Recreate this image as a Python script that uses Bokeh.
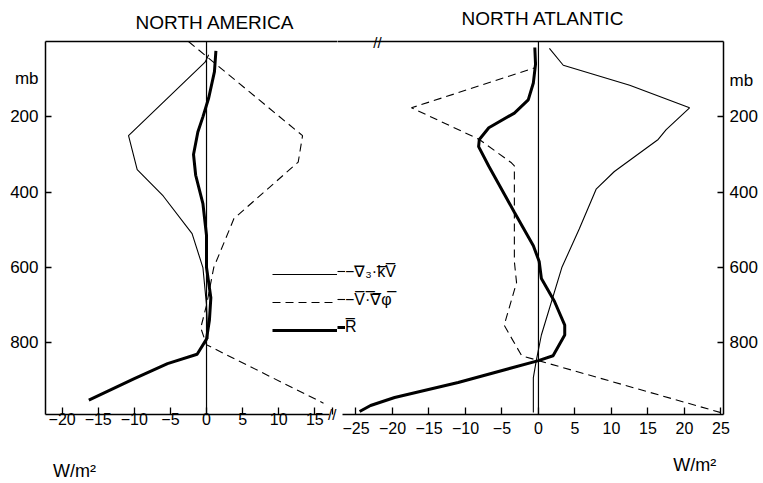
from bokeh.plotting import figure
from bokeh.layouts import row
from bokeh.models import Range1d, LinearAxis, FixedTicker, Span, Legend, LegendItem
from bokeh.core.properties import value
from bokeh.embed import file_html
from bokeh.resources import INLINE

# ---------------- data (pressure in mb, flux in W/m^2) ----------------
# NORTH AMERICA
na_kv_p = [35, 55, 250, 340, 410, 510, 600, 700, 790]
na_kv_v = [0.3, -0.2, -10.8, -9.6, -6.0, -2.0, -0.5, 0.0, 0.2]
na_phi_p = [0, 250, 320, 470, 600, 700, 760, 805, 960]
na_phi_v = [-2.5, 13.3, 12.7, 3.8, 1.0, 0.0, -0.8, 0.0, 16.2]
na_r_p = [25, 80, 150, 200, 240, 300, 355, 430, 515, 600, 680, 740, 790, 830, 855, 895, 952]
na_r_v = [1.3, 1.1, 0.3, -0.5, -1.2, -1.8, -1.5, -0.5, 0.0, 0.0, 0.6, 0.4, 0.0, -1.3, -5.4, -10.0, -16.3]

# NORTH ATLANTIC
at_kv_p = [18, 63, 116, 176, 234, 260, 345, 392, 497, 600, 779, 847, 892, 985]
at_kv_v = [1.5, 3.4, 12.5, 20.7, 17.5, 16.4, 10.4, 7.9, 5.6, 3.2, 0.4, -0.3, -0.7, -0.7]
at_phi_p = [55, 70, 176, 260, 322, 330, 584, 640, 753, 834, 847, 985]
at_phi_v = [-0.3, -0.5, -17.4, -8.1, -3.7, -3.3, -3.3, -3.0, -4.7, -2.3, 0.0, 25.0]
at_r_p = [16, 60, 110, 155, 190, 229, 260, 279, 331, 453, 542, 584, 629, 690, 753, 779, 834, 847, 905, 945, 966, 982]
at_r_v = [-0.5, -0.4, -0.7, -1.4, -3.3, -6.8, -8.1, -8.2, -6.8, -3.3, -0.7, 0.1, 0.4, 2.2, 3.6, 3.6, 2.0, 0.0, -11.0, -19.7, -23.0, -24.5]

na_ticks = [-20, -15, -10, -5, 0, 5, 10, 15]
na_tick_labels = ["\u221220", "\u221215", "\u221210", "\u22125", "0", "5", "10", "15"]
at_ticks = [-25, -20, -15, -10, -5, 0, 5, 10, 15, 20, 25]
at_tick_labels = ["\u221225", "\u221220", "\u221215", "\u221210", "\u22125", "0", "5", "10", "15", "20", "25"]
p_ticks = [200, 400, 600, 800]
p_tick_labels = ["200", "400", "600", "800"]

legend_labels = ["\u2212\u2207\u2083\u00b7k\u0305V\u0305", "\u2212V\u0305\u00b7\u0305\u2207\u0305\u03c6\u0305", "R\u0305"]
titles = ["NORTH AMERICA", "NORTH ATLANTIC"]
unit_x = "W/m\u00b2"
unit_p = "mb"
break_mark = "//"

FONT = "Liberation Sans"

# ---------------- helpers ----------------
def make_axis(ticks, labels=None, size="16px", tick_in=0, line=False, standoff=5, **kw):
    ax = LinearAxis(ticker=FixedTicker(ticks=ticks), **kw)
    if labels is not None:
        ax.major_label_overrides = dict(zip(ticks, labels))
    ax.axis_line_color = "black" if line else None
    ax.axis_line_width = 1.5
    ax.major_tick_in = tick_in
    ax.major_tick_out = 0
    ax.major_tick_line_color = "black" if tick_in else None
    ax.major_tick_line_width = 1.3
    ax.minor_tick_line_color = None
    ax.major_label_text_font = FONT
    ax.major_label_text_font_size = size
    ax.major_label_text_color = "black"
    ax.major_label_standoff = standoff
    return ax

def base_fig(xr, fw, top, bottom, left, right, title, offset, standoff):
    f = figure(frame_width=fw, frame_height=373,
               min_border_left=left, min_border_right=right,
               min_border_top=top, min_border_bottom=bottom,
               x_range=xr, y_range=Range1d(990, 0),
               output_backend="svg", toolbar_location=None,
               x_axis_location=None, y_axis_location=None, title=title)
    f.grid.visible = False
    f.outline_line_color = None
    f.background_fill_color = "white"
    f.border_fill_color = "white"
    f.title.text_font = FONT
    f.title.text_font_size = "19px"
    f.title.text_font_style = "normal"
    f.title.text_color = "black"
    f.title.align = "left"
    f.title.offset = offset
    f.title.standoff = standoff
    return f

# ---------------- left panel: NORTH AMERICA ----------------
pl = base_fig(Range1d(-22.3, 18.14), 292, 38, 71, 45, 0, titles[0], 90, 18)
# bottom: ticks + break mark, numbers, unit
ax_a = make_axis(na_ticks + [17.4], [""] * len(na_ticks) + [break_mark], size="15px",
                 tick_in=7, line=True, standoff=-9, bounds=(-22.3, 17.0))
pl.add_layout(ax_a, "below")
pl.add_layout(make_axis(na_ticks, na_tick_labels, size="16px", standoff=-13), "below")
pl.add_layout(make_axis([-18.3], [unit_x], size="18px", standoff=33), "below")
# left: tick marks, then labels
pl.add_layout(make_axis(p_ticks, [""] * 4, size="0px", tick_in=6, line=True, standoff=0), "left")
pl.add_layout(make_axis([98] + p_ticks, [unit_p] + p_tick_labels, size="17px", standoff=7), "left")
# top border
pl.add_layout(make_axis([], size="0px", line=True, standoff=0), "above")
pl.add_layout(Span(location=0, dimension="height", line_color="black", line_width=1.2))

r1 = pl.line(na_kv_v, na_kv_p, line_color="black", line_width=1.1)
r2 = pl.line(na_phi_v, na_phi_p, line_color="black", line_width=1.1, line_dash="8 5")
r3 = pl.line(na_r_v, na_r_p, line_color="black", line_width=3)

leg_l = Legend(items=[LegendItem(label=value(""), renderers=[r]) for r in (r1, r2, r3)],
               location=(227, 74), glyph_width=65, glyph_height=20, label_height=20,
               label_width=0, spacing=8, padding=0, margin=0, label_standoff=0,
               border_line_color=None, background_fill_alpha=0,
               label_text_font=FONT, label_text_font_size="16px", label_text_color="black")
pl.add_layout(leg_l)

# ---------------- right panel: NORTH ATLANTIC ----------------
pr = base_fig(Range1d(-27.53, 25.35), 386, 41, 68, 0, 40, titles[1], 124, 4)
pr.add_layout(make_axis(at_ticks, at_tick_labels, size="16px", tick_in=7, line=True,
                        standoff=7, bounds=(-26.9, 25.35)), "below")
pr.add_layout(make_axis([21.4], [unit_x], size="18px", standoff=18), "below")
pr.add_layout(make_axis(p_ticks, [""] * 4, size="0px", tick_in=6, line=True, standoff=0), "right")
pr.add_layout(make_axis([103] + p_ticks, [unit_p] + p_tick_labels, size="17px", standoff=6), "right")
pr.add_layout(make_axis([-22.05], [break_mark], size="15px", line=True, standoff=-9), "above")
pr.add_layout(Span(location=0, dimension="height", line_color="black", line_width=1.2))

q1 = pr.line(at_kv_v, at_kv_p, line_color="black", line_width=1.1)
q2 = pr.line(at_phi_v, at_phi_p, line_color="black", line_width=1.1, line_dash="8 5")
q3 = pr.line(at_r_v, at_r_p, line_color="black", line_width=3)

leg_r = Legend(items=[LegendItem(label=value(legend_labels[i]), renderers=[r])
                      for i, r in enumerate((q1, q2, q3))],
               location=(0, 77), glyph_width=8, glyph_height=20, label_height=20,
               spacing=8, padding=0, margin=0, label_standoff=0,
               border_line_color=None, background_fill_alpha=0,
               label_text_font=FONT, label_text_font_size="16px", label_text_color="black")
pr.add_layout(leg_r)

layout = row(pl, pr)
open("out.html", "w").write(file_html(layout, INLINE))
